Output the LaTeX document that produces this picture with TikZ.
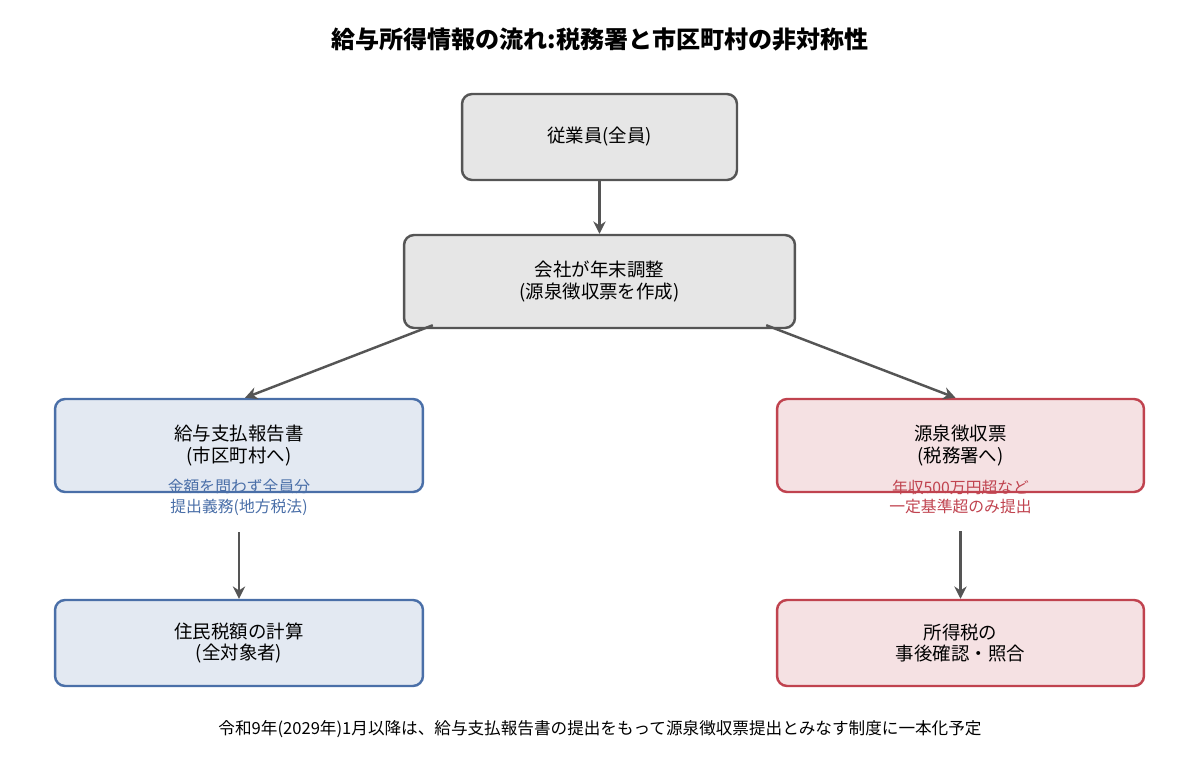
\documentclass[tikz,border=0pt]{standalone}
\usepackage{fontspec}
\setmainfont{Noto Sans CJK JP}
\usetikzlibrary{arrows.meta}

\definecolor{grayfill}{HTML}{E6E6E6}
\definecolor{grayline}{HTML}{555555}
\definecolor{bluefill}{HTML}{E3E9F2}
\definecolor{blueline}{HTML}{4A6FA8}
\definecolor{redfill}{HTML}{F5E1E3}
\definecolor{redline}{HTML}{C0434F}

\begin{document}
\begin{tikzpicture}[x=0.02cm, y=-0.02cm,
  box/.style={rectangle, rounded corners=0.2cm, line width=1.4pt, align=center,
    font=\fontsize{10.5pt}{12pt}\selectfont, inner sep=0pt},
  graybox/.style={box, draw=grayline, fill=grayfill},
  bluebox/.style={box, draw=blueline, fill=bluefill, minimum width=7.36cm},
  redbox/.style={box, draw=redline, fill=redfill, minimum width=7.34cm},
  note/.style={align=center, font=\fontsize{9pt}{11.3pt}\selectfont},
  link/.style={-{Stealth[length=7pt,width=7pt]}, line width=1.4pt, draw=grayline}]
  \useasboundingbox (0,0) rectangle (1200,780);

  \node[font=\bfseries\fontsize{13.7pt}{16pt}\selectfont] (title) at (600,39)
    {給与所得情報の流れ:税務署と市区町村の非対称性};

  \node[graybox, minimum width=5.5cm, minimum height=1.72cm] (staff) at (599.5,137) {従業員(全員)};
  \node[graybox, minimum width=7.82cm, minimum height=1.86cm] (company) at (599.5,281.5)
    {会社が年末調整\\(源泉徴収票を作成)};
  \node[bluebox, minimum height=1.86cm] (report) at (239,445.5) {給与支払報告書\\(市区町村へ)};
  \node[redbox, minimum height=1.86cm] (slip) at (960.5,445.5) {源泉徴収票\\(税務署へ)};
  \node[note, text=blueline] (report_note) at (239,497) {金額を問わず全員分\\提出義務(地方税法)};
  \node[note, text=redline] (slip_note) at (960.5,497) {年収500万円超など\\一定基準超のみ提出};
  \node[bluebox, minimum height=1.72cm] (resident) at (239,643) {住民税額の計算\\(全対象者)};
  \node[redbox, minimum height=1.72cm] (incometax) at (960.5,643) {所得税の\\事後確認・照合};

  \node[font=\fontsize{9.45pt}{11pt}\selectfont] (footer) at (600,729)
    {令和9年(2029年)1月以降は、給与支払報告書の提出をもって源泉徴収票提出とみなす制度に一本化予定};

  \draw[link] (staff.south) -- (company.north);
  \draw[link] ([xshift=0.6cm,yshift=0.08cm]company.south west) -- ([xshift=0.12cm]report.north);
  \draw[link] ([xshift=-0.6cm,yshift=0.08cm]company.south east) -- ([xshift=-0.1cm]slip.north);
  \draw[link, shorten <=0.22cm] (report_note.south) -- (resident.north);
  \draw[link, shorten <=0.22cm] (slip_note.south) -- (incometax.north);
\end{tikzpicture}
\end{document}
